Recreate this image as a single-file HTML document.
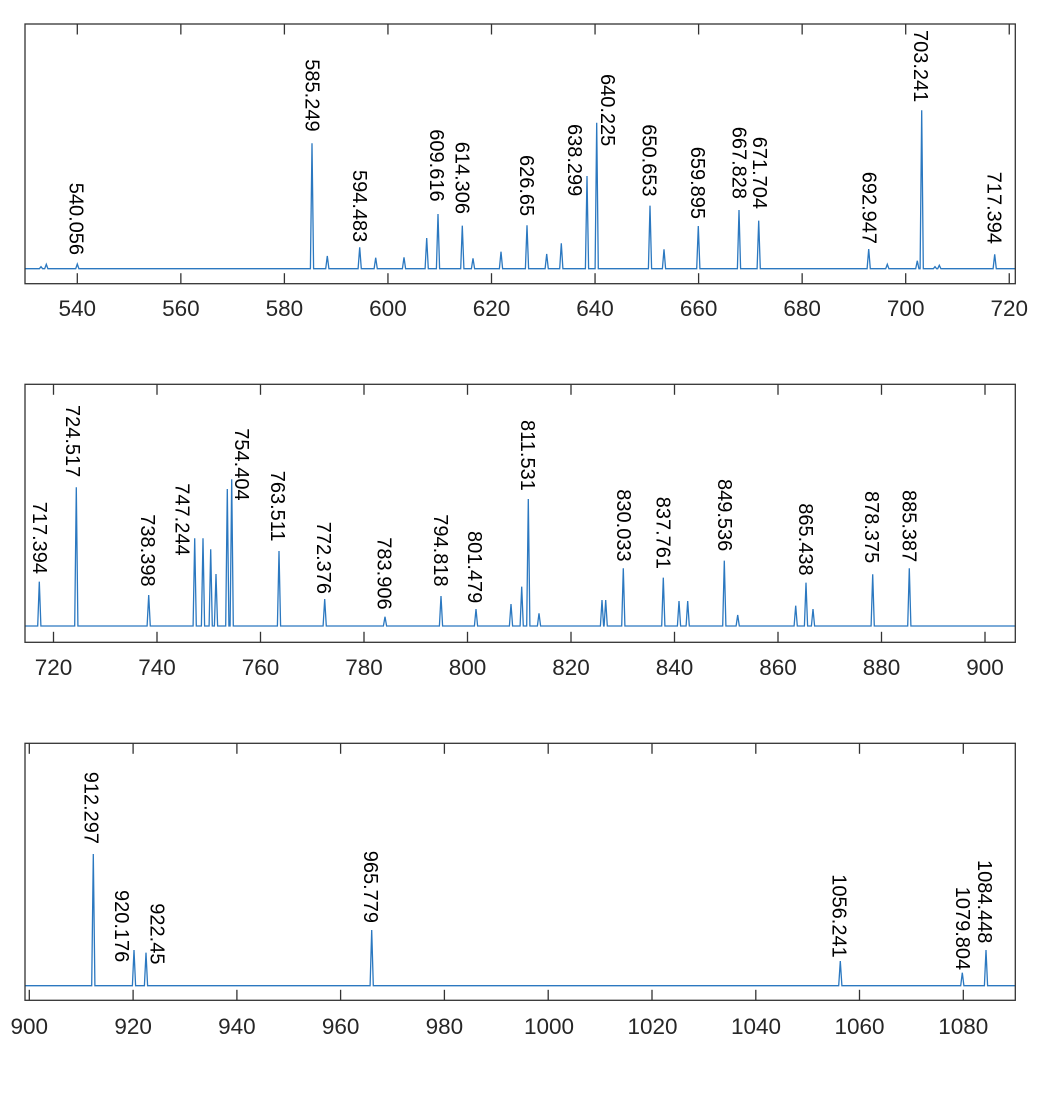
<!DOCTYPE html>
<html>
<head>
<meta charset="utf-8">
<style>
html,body{margin:0;padding:0;background:#fff;}
svg{display:block;}
.tk{font-family:"Liberation Sans",Arial,sans-serif;font-size:22.5px;fill:#262626;text-anchor:middle;}
.lb{font-family:"Liberation Sans",Arial,sans-serif;font-size:20px;fill:#000;}
.ax{fill:none;stroke:#333;stroke-width:1.3;}
.tick{stroke:#333;stroke-width:1.3;}
.ln{fill:none;stroke:#2b78c0;stroke-width:1.3;stroke-linejoin:miter;}
</style>
</head>
<body>
<svg width="1046" height="1116" viewBox="0 0 1046 1116" xmlns="http://www.w3.org/2000/svg">
<rect width="1046" height="1116" fill="#fff"/>

<!-- ================= PANEL 1 ================= -->
<path class="ln" d="M25,268.7 L39.4,268.7 L41,266.7 L42.6,268.7 L44.7,268.7 L46.3,264.3 L47.9,268.7 L75.7,268.7 L77.3,264 L78.9,268.7 L310.4,268.7 L312,143.3 L313.6,268.7 L325.7,268.7 L327.3,256 L328.9,268.7 L358.1,268.7 L359.7,247.3 L361.3,268.7 L374.1,268.7 L375.7,257.7 L377.3,268.7 L402.4,268.7 L404,257.3 L405.6,268.7 L425.1,268.7 L426.7,238 L428.3,268.7 L436.4,268.7 L438,214 L439.6,268.7 L460.7,268.7 L462.3,225.7 L463.9,268.7 L471.4,268.7 L473,258.3 L474.6,268.7 L499.4,268.7 L501,251.7 L502.6,268.7 L525.4,268.7 L527,225.3 L528.6,268.7 L545.1,268.7 L546.7,254 L548.3,268.7 L559.7,268.7 L561.3,243.3 L562.9,268.7 L585.4,268.7 L587,176 L588.6,268.7 L595.1,268.7 L596.7,122.7 L598.3,268.7 L648.4,268.7 L650,205.7 L651.6,268.7 L662.4,268.7 L664,249.3 L665.6,268.7 L696.7,268.7 L698.3,226 L699.9,268.7 L737.4,268.7 L739,210 L740.6,268.7 L757.1,268.7 L758.7,220.7 L760.3,268.7 L867.1,268.7 L868.7,249 L870.3,268.7 L885.7,268.7 L887.3,264.3 L888.9,268.7 L915.7,268.7 L917.3,260.7 L918.9,268.7 L920.1,268.7 L921.7,110.3 L923.3,268.7 L933.4,268.7 L935,266.7 L936.6,268.7 L937.7,268.7 L939.3,265.3 L940.9,268.7 L993.1,268.7 L994.7,254.3 L996.3,268.7 L1015.3,268.7"/>
<rect class="ax" x="25" y="24" width="990.3" height="259.7"/>
<g class="tick">
<line x1="77.3" y1="24" x2="77.3" y2="34.5"/><line x1="77.3" y1="283.7" x2="77.3" y2="273.2"/>
<line x1="180.85" y1="24" x2="180.85" y2="34.5"/><line x1="180.85" y1="283.7" x2="180.85" y2="273.2"/>
<line x1="284.4" y1="24" x2="284.4" y2="34.5"/><line x1="284.4" y1="283.7" x2="284.4" y2="273.2"/>
<line x1="387.95" y1="24" x2="387.95" y2="34.5"/><line x1="387.95" y1="283.7" x2="387.95" y2="273.2"/>
<line x1="491.5" y1="24" x2="491.5" y2="34.5"/><line x1="491.5" y1="283.7" x2="491.5" y2="273.2"/>
<line x1="595.05" y1="24" x2="595.05" y2="34.5"/><line x1="595.05" y1="283.7" x2="595.05" y2="273.2"/>
<line x1="698.6" y1="24" x2="698.6" y2="34.5"/><line x1="698.6" y1="283.7" x2="698.6" y2="273.2"/>
<line x1="802.15" y1="24" x2="802.15" y2="34.5"/><line x1="802.15" y1="283.7" x2="802.15" y2="273.2"/>
<line x1="905.7" y1="24" x2="905.7" y2="34.5"/><line x1="905.7" y1="283.7" x2="905.7" y2="273.2"/>
<line x1="1009.25" y1="24" x2="1009.25" y2="34.5"/><line x1="1009.25" y1="283.7" x2="1009.25" y2="273.2"/>
</g>
<g class="tk">
<text x="77.3" y="316">540</text>
<text x="180.85" y="316">560</text>
<text x="284.4" y="316">580</text>
<text x="387.95" y="316">600</text>
<text x="491.5" y="316">620</text>
<text x="595.05" y="316">640</text>
<text x="698.6" y="316">660</text>
<text x="802.15" y="316">680</text>
<text x="905.7" y="316">700</text>
<text x="1009.25" y="316">720</text>
</g>
<g class="lb">
<text transform="translate(69.5,182.7) rotate(90)">540.056</text>
<text transform="translate(305.3,59.3) rotate(90)">585.249</text>
<text transform="translate(352.8,170) rotate(90)">594.483</text>
<text transform="translate(429.8,129.3) rotate(90)">609.616</text>
<text transform="translate(455.3,141.7) rotate(90)">614.306</text>
<text transform="translate(519.8,155) rotate(90)">626.65</text>
<text transform="translate(567.8,124) rotate(90)">638.299</text>
<text transform="translate(600.8,74) rotate(90)">640.225</text>
<text transform="translate(642.3,124.3) rotate(90)">650.653</text>
<text transform="translate(691.1,146.7) rotate(90)">659.895</text>
<text transform="translate(732.3,126.7) rotate(90)">667.828</text>
<text transform="translate(752.8,136.7) rotate(90)">671.704</text>
<text transform="translate(862.6,171.7) rotate(90)">692.947</text>
<text transform="translate(913.8,30) rotate(90)">703.241</text>
<text transform="translate(987.3,171.7) rotate(90)">717.394</text>
</g>

<!-- ================= PANEL 2 ================= -->
<path class="ln" d="M25,626 L37.7,626 L39.3,581.7 L40.9,626 L74.7,626 L76.3,487.3 L77.9,626 L147.1,626 L148.7,595 L150.3,626 L193.1,626 L194.7,538.3 L196.3,626 L201.4,626 L203,538.3 L204.6,626 L209.1,626 L210.7,549.3 L212.3,626 L214.4,626 L216,574 L217.6,626 L225.7,626 L227.3,489 L228.9,626 L230.1,626 L231.7,479.3 L233.3,626 L277.4,626 L279,551 L280.6,626 L323.1,626 L324.7,599 L326.3,626 L383.4,626 L385,616.7 L386.6,626 L439.4,626 L441,596 L442.6,626 L474.4,626 L476,609 L477.6,626 L509.4,626 L511,604 L512.6,626 L520.1,626 L521.7,586.7 L523.3,626 L526.7,626 L528.3,499 L529.9,626 L537.4,626 L539,613.3 L540.6,626 L600.4,626 L602,600 L603.6,626 L604.1,626 L605.7,600 L607.3,626 L621.7,626 L623.3,568.3 L624.9,626 L661.7,626 L663.3,577.7 L664.9,626 L677.4,626 L679,601 L680.6,626 L686.1,626 L687.7,601 L689.3,626 L722.7,626 L724.3,560.7 L725.9,626 L736.1,626 L737.7,615 L739.3,626 L794.1,626 L795.7,605.7 L797.3,626 L804.4,626 L806,582.7 L807.6,626 L811.4,626 L813,609 L814.6,626 L871.1,626 L872.7,574.3 L874.3,626 L907.7,626 L909.3,568.3 L910.9,626 L1015.3,626"/>
<rect class="ax" x="25" y="384.3" width="990.3" height="258"/>
<g class="tick">
<line x1="53.5" y1="384.3" x2="53.5" y2="394.8"/><line x1="53.5" y1="642.3" x2="53.5" y2="631.8"/>
<line x1="157" y1="384.3" x2="157" y2="394.8"/><line x1="157" y1="642.3" x2="157" y2="631.8"/>
<line x1="260.5" y1="384.3" x2="260.5" y2="394.8"/><line x1="260.5" y1="642.3" x2="260.5" y2="631.8"/>
<line x1="364" y1="384.3" x2="364" y2="394.8"/><line x1="364" y1="642.3" x2="364" y2="631.8"/>
<line x1="467.5" y1="384.3" x2="467.5" y2="394.8"/><line x1="467.5" y1="642.3" x2="467.5" y2="631.8"/>
<line x1="571" y1="384.3" x2="571" y2="394.8"/><line x1="571" y1="642.3" x2="571" y2="631.8"/>
<line x1="674.5" y1="384.3" x2="674.5" y2="394.8"/><line x1="674.5" y1="642.3" x2="674.5" y2="631.8"/>
<line x1="778" y1="384.3" x2="778" y2="394.8"/><line x1="778" y1="642.3" x2="778" y2="631.8"/>
<line x1="881.5" y1="384.3" x2="881.5" y2="394.8"/><line x1="881.5" y1="642.3" x2="881.5" y2="631.8"/>
<line x1="985" y1="384.3" x2="985" y2="394.8"/><line x1="985" y1="642.3" x2="985" y2="631.8"/>
</g>
<g class="tk">
<text x="53.5" y="675">720</text>
<text x="157" y="675">740</text>
<text x="260.5" y="675">760</text>
<text x="364" y="675">780</text>
<text x="467.5" y="675">800</text>
<text x="571" y="675">820</text>
<text x="674.5" y="675">840</text>
<text x="778" y="675">860</text>
<text x="881.5" y="675">880</text>
<text x="985" y="675">900</text>
</g>
<g class="lb">
<text transform="translate(32.8,501.7) rotate(90)">717.394</text>
<text transform="translate(66.1,405) rotate(90)">724.517</text>
<text transform="translate(141.1,514.3) rotate(90)">738.398</text>
<text transform="translate(175.6,483.3) rotate(90)">747.244</text>
<text transform="translate(234.8,428.3) rotate(90)">754.404</text>
<text transform="translate(271.1,470.7) rotate(90)">763.511</text>
<text transform="translate(317,521.7) rotate(90)">772.376</text>
<text transform="translate(377.5,537.3) rotate(90)">783.906</text>
<text transform="translate(434,514.3) rotate(90)">794.818</text>
<text transform="translate(467.8,531) rotate(90)">801.479</text>
<text transform="translate(520.8,420) rotate(90)">811.531</text>
<text transform="translate(616.8,489.3) rotate(90)">830.033</text>
<text transform="translate(656.5,496.7) rotate(90)">837.761</text>
<text transform="translate(717.8,479) rotate(90)">849.536</text>
<text transform="translate(799.1,503.3) rotate(90)">865.438</text>
<text transform="translate(864.8,491) rotate(90)">878.375</text>
<text transform="translate(902.3,490) rotate(90)">885.387</text>
</g>

<!-- ================= PANEL 3 ================= -->
<path class="ln" d="M25,985.7 L91.7,985.7 L93.3,854 L94.9,985.7 L132.4,985.7 L134,950 L135.6,985.7 L144.4,985.7 L146,952.7 L147.6,985.7 L370.1,985.7 L371.7,930 L373.3,985.7 L838.7,985.7 L840.3,961 L841.9,985.7 L960.7,985.7 L962.3,972.7 L963.9,985.7 L984.4,985.7 L986,950 L987.6,985.7 L1015.3,985.7"/>
<rect class="ax" x="25" y="743.3" width="990.3" height="257"/>
<g class="tick">
<line x1="29.3" y1="743.3" x2="29.3" y2="753.8"/><line x1="29.3" y1="1000.3" x2="29.3" y2="989.8"/>
<line x1="133.1" y1="743.3" x2="133.1" y2="753.8"/><line x1="133.1" y1="1000.3" x2="133.1" y2="989.8"/>
<line x1="236.9" y1="743.3" x2="236.9" y2="753.8"/><line x1="236.9" y1="1000.3" x2="236.9" y2="989.8"/>
<line x1="340.6" y1="743.3" x2="340.6" y2="753.8"/><line x1="340.6" y1="1000.3" x2="340.6" y2="989.8"/>
<line x1="444.4" y1="743.3" x2="444.4" y2="753.8"/><line x1="444.4" y1="1000.3" x2="444.4" y2="989.8"/>
<line x1="548.2" y1="743.3" x2="548.2" y2="753.8"/><line x1="548.2" y1="1000.3" x2="548.2" y2="989.8"/>
<line x1="652" y1="743.3" x2="652" y2="753.8"/><line x1="652" y1="1000.3" x2="652" y2="989.8"/>
<line x1="755.8" y1="743.3" x2="755.8" y2="753.8"/><line x1="755.8" y1="1000.3" x2="755.8" y2="989.8"/>
<line x1="859.5" y1="743.3" x2="859.5" y2="753.8"/><line x1="859.5" y1="1000.3" x2="859.5" y2="989.8"/>
<line x1="963.3" y1="743.3" x2="963.3" y2="753.8"/><line x1="963.3" y1="1000.3" x2="963.3" y2="989.8"/>
</g>
<g class="tk">
<text x="29.3" y="1034">900</text>
<text x="133.1" y="1034">920</text>
<text x="236.9" y="1034">940</text>
<text x="340.6" y="1034">960</text>
<text x="444.4" y="1034">980</text>
<text x="549" y="1034">1000</text>
<text x="652.5" y="1034">1020</text>
<text x="756" y="1034">1040</text>
<text x="859.5" y="1034">1060</text>
<text x="963.3" y="1034">1080</text>
</g>
<g class="lb">
<text transform="translate(84.5,771.7) rotate(90)">912.297</text>
<text transform="translate(114.8,890) rotate(90)">920.176</text>
<text transform="translate(150.6,903.3) rotate(90)">922.45</text>
<text transform="translate(364,850.7) rotate(90)">965.779</text>
<text transform="translate(832.3,874.3) rotate(90)">1056.241</text>
<text transform="translate(955.8,886.7) rotate(90)">1079.804</text>
<text transform="translate(977.8,860) rotate(90)">1084.448</text>
</g>
</svg>
</body>
</html>
